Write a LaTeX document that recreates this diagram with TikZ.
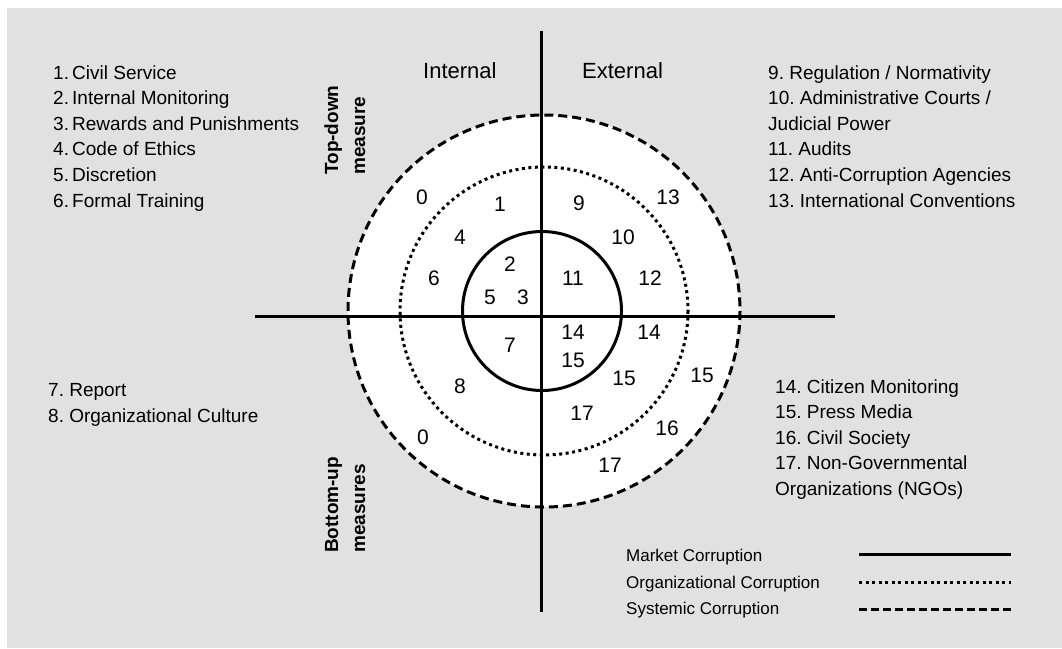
\documentclass[tikz,border=0pt]{standalone}
\usepackage{fontspec}
\setmainfont{Liberation Sans}
\frenchspacing
\definecolor{panel}{RGB}{225,225,225}
\begin{document}
\begin{tikzpicture}[x=1pt,y=-1pt,
  listtext/.style={anchor=base west, inner sep=0pt, font=\fontsize{19}{23}\selectfont},
  num/.style={inner sep=0pt, font=\fontsize{21}{25}\selectfont},
  head/.style={anchor=base west, inner sep=0pt, font=\fontsize{22}{26}\selectfont},
  side/.style={anchor=base west, inner sep=0pt, rotate=90, font=\fontsize{19}{23}\selectfont\bfseries},
  legtext/.style={anchor=base west, inner sep=0pt, font=\fontsize{17}{20}\selectfont},
  axis/.style={line width=3pt},
  market/.style={line width=3pt},
  orgc/.style={line width=3pt, dash pattern=on 3pt off 3.5pt},
  syst/.style={line width=3pt, dash pattern=on 9pt off 5pt},
]
\useasboundingbox (0,0) rectangle (1062,648);
\fill[white] (0,0) rectangle (1062,648);
\fill[panel] (7,8) rectangle (1062,648);

% circles
\coordinate (c0) at (542,311);
\coordinate (c1) at (544,311);
\fill[white] (c1) circle[radius=196];
\draw[syst] (c1) circle[radius=196];
\draw[orgc] (c1) circle[radius=144];
\draw[market] (c0) circle[radius=79.5];

% axes
\coordinate (vt) at (541,31);
\coordinate (vb) at (541,612);
\coordinate (hl) at (255,316);
\coordinate (hr) at (835,316);
\draw[axis] (vt) -- (vb);
\draw[axis] (hl) -- (hr);

% headers
\node[head] (hint) at (423,78) {Internal};
\node[head] (hext) at (582,78) {External};
\node[side] (td1) at (338,175) {Top-down};
\node[side] (td2) at (365,175) {measure};
\node[side] (bu1) at (338,553) {Bottom-up};
\node[side] (bu2) at (365,553) {measures};

% numbers
\node[num] (n0a) at (422,197) {0};
\node[num] (n1) at (500,204) {1};
\node[num] (n4) at (460,237) {4};
\node[num] (n6) at (434,278) {6};
\node[num] (n2) at (510,264) {2};
\node[num] (n5) at (490,297) {5};
\node[num] (n3) at (523,297) {3};
\node[num] (n7) at (510,345) {7};
\node[num] (n8) at (460,386) {8};
\node[num] (n0b) at (423,437) {0};
\node[num] (n9) at (579,203) {9};
\node[num] (n13) at (668,197) {13};
\node[num] (n10) at (623,237) {10};
\node[num] (n11) at (573,278) {11};
\node[num] (n12) at (650,278) {12};
\node[num] (n14a) at (573,332) {14};
\node[num] (n15a) at (573,360) {15};
\node[num] (n14b) at (649,332) {14};
\node[num] (n15b) at (624,378) {15};
\node[num] (n15c) at (702,375) {15};
\node[num] (n17a) at (582,413) {17};
\node[num] (n16) at (667,428) {16};
\node[num] (n17b) at (610,465) {17};

% left list
\node[listtext] (l1) at (53,79) {1.\,Civil Service};
\node[listtext] (l2) at (53,104.6) {2.\,Internal Monitoring};
\node[listtext] (l3) at (53,130.2) {3.\,Rewards and Punishments};
\node[listtext] (l4) at (53,155.8) {4.\,Code of Ethics};
\node[listtext] (l5) at (53,181.4) {5.\,Discretion};
\node[listtext] (l6) at (53,207) {6.\,Formal Training};

% right list
\node[listtext] (r9) at (768,79) {9. Regulation / Normativity};
\node[listtext] (r10) at (768,104.6) {10. Administrative Courts /};
\node[listtext] (r10b) at (768,130.2) {Judicial Power};
\node[listtext] (r11) at (768,155.8) {11. Audits};
\node[listtext] (r12) at (768,181.4) {12. Anti-Corruption Agencies};
\node[listtext] (r13) at (768,207) {13. International Conventions};

% bottom-left list
\node[listtext] (b7) at (48,396) {7. Report};
\node[listtext] (b8) at (48,422) {8. Organizational Culture};

% bottom-right list
\node[listtext] (b14) at (775,393) {14. Citizen Monitoring};
\node[listtext] (b15) at (775,418.6) {15. Press Media};
\node[listtext] (b16) at (775,444.2) {16. Civil Society};
\node[listtext] (b17) at (775,469.8) {17. Non-Governmental};
\node[listtext] (b17b) at (775,495.4) {Organizations (NGOs)};

% legend
\node[legtext] (lg1) at (626,561) {Market Corruption};
\node[legtext] (lg2) at (626,588) {Organizational Corruption};
\node[legtext] (lg3) at (626,614) {Systemic Corruption};
\coordinate (la1) at (859,554);
\coordinate (lb1) at (1011,554);
\coordinate (la2) at (859,582);
\coordinate (lb2) at (1011,582);
\coordinate (la3) at (859,609);
\coordinate (lb3) at (1011,609);
\draw[market] (la1) -- (lb1);
\draw[orgc] (la2) -- (lb2);
\draw[line width=3pt, dash pattern=on 8pt off 4pt] (la3) -- (lb3);
\end{tikzpicture}
\end{document}
